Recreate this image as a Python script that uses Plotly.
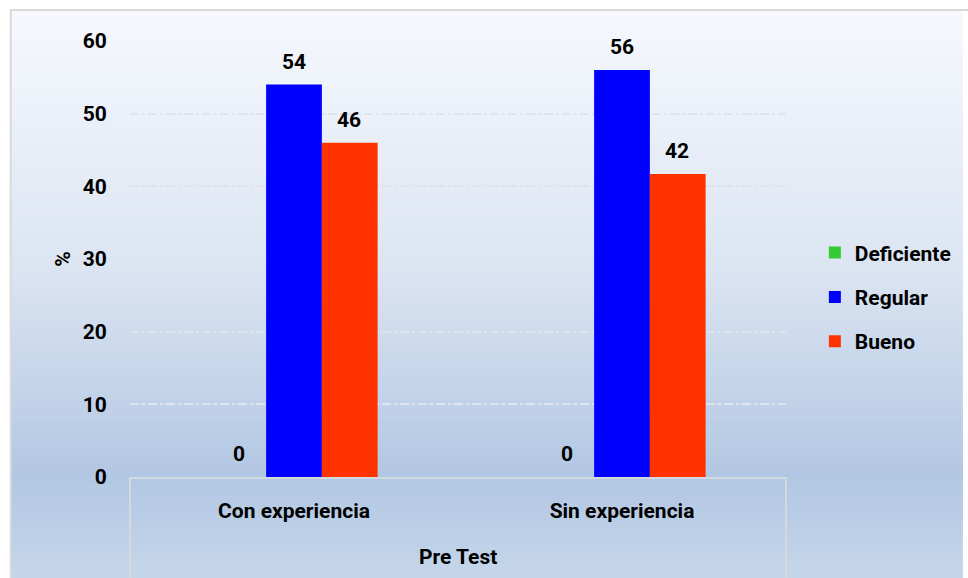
import plotly.graph_objects as go

categories = ["Con experiencia", "Sin experiencia"]
series_names = ["Deficiente", "Regular", "Bueno"]
deficiente = [0, 0]
regular = [54, 56]
bueno = [46, 41.7]
y_ticks = [0, 10, 20, 30, 40, 50, 60]
axis_group_label = "Pre Test"
y_title = "%"

colors = ["#33cc33", "#0000ff", "#ff3300"]
FONT = "Roboto"
FS = 21

fig = go.Figure()
for name, vals, col in zip(series_names, [deficiente, regular, bueno], colors):
    fig.add_trace(go.Bar(
        x=categories, y=vals, name=name, marker=dict(color=col, line=dict(width=0)),
        legendgroup=name, hoverinfo="skip",
    ))

fig.update_layout(barmode="group", bargap=0.49, bargroupgap=0)

# value labels above bars
offsets = [-1, 0, 1]
annotations = []
for k, (vals, off) in enumerate(zip([deficiente, regular, bueno], offsets)):
    for i, v in enumerate(vals):
        annotations.append(dict(
            x=i + off * 0.168, y=v, xref="x", yref="y", text="<b>%d</b>" % round(v),
            showarrow=False, yanchor="middle", yshift=23,
            font=dict(family=FONT, size=FS, color="#000000"),
        ))
annotations.append(dict(
    x=0.5, y=-0.184, xref="paper", yref="paper", text="<b>%s</b>" % axis_group_label,
    showarrow=False, xanchor="center", yanchor="middle",
    font=dict(family=FONT, size=FS, color="#000000"),
))

# gradient background strips
shapes = []
x0p, x1p = -0.1818, 1.2697
ytop, ybot = 1.0711, -0.2317
stops = [(0.0, (246, 248, 253)), (0.45, (220, 229, 242)), (0.82, (178, 199, 227)), (1.0, (198, 214, 234))]

def color_at(t):
    for (t0, c0), (t1, c1) in zip(stops[:-1], stops[1:]):
        if t0 <= t <= t1:
            f = (t - t0) / (t1 - t0)
            return "rgb(%d,%d,%d)" % tuple(round(a + (b - a) * f) for a, b in zip(c0, c1))
    return "rgb(%d,%d,%d)" % stops[-1][1]

N = 90
for j in range(N):
    ya = ytop - (ytop - ybot) * j / N
    yb = ytop - (ytop - ybot) * (j + 1) / N
    shapes.append(dict(type="rect", xref="paper", yref="paper", x0=x0p, x1=x1p,
                       y0=yb - 0.002, y1=ya, fillcolor=color_at((j + 0.5) / N),
                       line=dict(width=0), layer="below"))
# outer border
shapes.append(dict(type="rect", xref="paper", yref="paper", x0=x0p, x1=x1p + 0.01,
                   y0=ybot - 0.01, y1=ytop, line=dict(color="#d9d9d9", width=2),
                   fillcolor="rgba(0,0,0,0)", layer="below"))
# category axis box verticals
for xv in [0, 1]:
    shapes.append(dict(type="line", xref="paper", yref="paper", x0=xv, x1=xv, y0=0, y1=ybot,
                       line=dict(color="#d4d9e0", width=2), layer="above"))

fig.update_layout(
    width=968, height=578,
    margin=dict(l=130, r=178, t=41, b=101),
    paper_bgcolor="#ffffff", plot_bgcolor="rgba(0,0,0,0)",
    font=dict(family=FONT, size=FS, color="#000000"),
    shapes=shapes, annotations=annotations,
    showlegend=True,
    legend=dict(x=1.044, y=0.413, xanchor="left", yanchor="middle",
                bgcolor="rgba(0,0,0,0)", tracegroupgap=14, traceorder="grouped",
                itemwidth=30,
                font=dict(family=FONT, size=FS, color="#000000", weight="bold")),
    xaxis=dict(
        type="category", showline=True, linecolor="#d4d9e0", linewidth=2,
        showgrid=False, ticks="outside", ticklen=14, tickcolor="rgba(0,0,0,0)",
        tickfont=dict(family=FONT, size=FS, color="#000000", weight="bold"),
        range=[-0.5, 1.5], fixedrange=True,
    ),
    yaxis=dict(
        range=[0, 60], tickvals=y_ticks, showline=False, zeroline=False,
        showgrid=True, gridcolor="#dde4ed", griddash="dashdot", gridwidth=2,
        ticks="outside", ticklen=18, tickcolor="rgba(0,0,0,0)",
        tickfont=dict(family=FONT, size=FS, color="#000000", weight="bold"),
        title=dict(text="<b>%s</b>" % y_title, standoff=6,
                   font=dict(family=FONT, size=FS, color="#000000")),
        fixedrange=True,
    ),
)

fig.write_html("out.html", config={"displayModeBar": False},
               post_script="document.body.style.margin='0';document.body.style.overflow='hidden';")
